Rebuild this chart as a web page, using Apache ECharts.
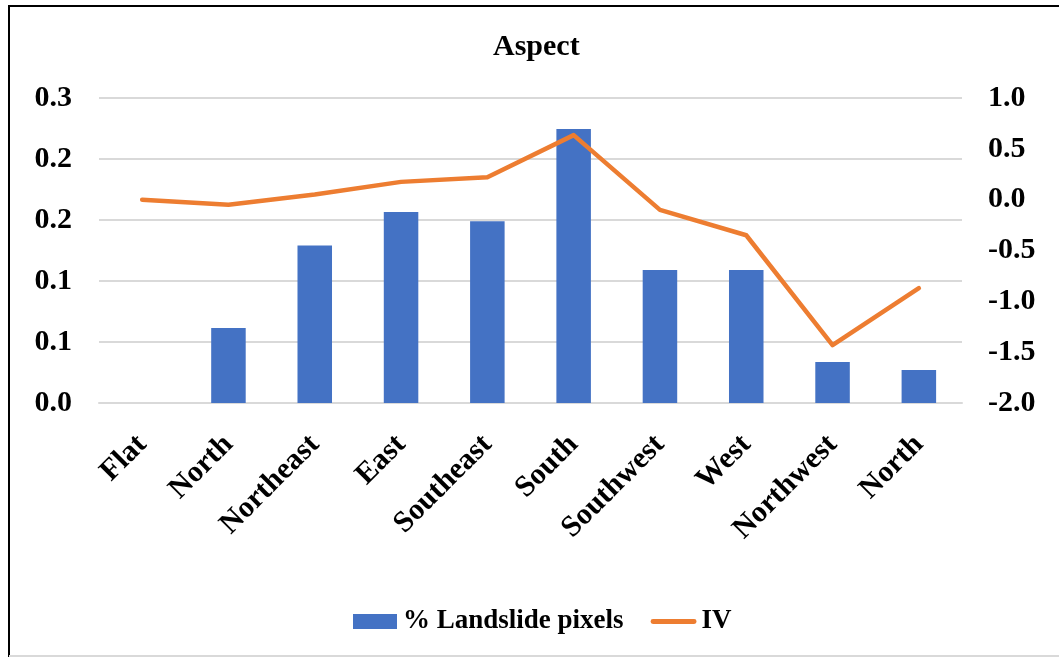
<!DOCTYPE html>
<html>
<head>
<meta charset="utf-8">
<title>Aspect</title>
<script src="https://cdn.jsdelivr.net/npm/echarts@6/dist/echarts.min.js"></script>
<style>
  html, body { margin: 0; padding: 0; background: #fff; }
  #chart { width: 1059px; height: 657px; }
</style>
</head>
<body>
<div id="chart"></div>
<script>
// Aspect classes along the x axis
const categories = ['Flat', 'North', 'Northeast', 'East', 'Southeast', 'South', 'Southwest', 'West', 'Northwest', 'North'];
// Share of landslide pixels per class (left axis)
const landslidePixels = [0, 0.0615, 0.1290, 0.1566, 0.1490, 0.2246, 0.1090, 0.1090, 0.0336, 0.0270];
// Information value per class (right axis)
const ivValues = [0.0, -0.05, 0.05, 0.175, 0.22, 0.635, -0.10, -0.35, -1.43, -0.87];
// Left axis labels as printed (one decimal)
const leftTickLabels = ['0.0', '0.1', '0.1', '0.2', '0.2', '0.3'];

const FONT = '"Liberation Serif", "Times New Roman", serif';

const chart = echarts.init(document.getElementById('chart'), null, { renderer: 'canvas' });

chart.setOption({
  backgroundColor: '#ffffff',
  animation: false,
  title: {
    text: 'Aspect',
    left: 488,
    top: 27,
    textStyle: { fontFamily: FONT, fontWeight: 'bold', fontSize: 30, color: '#000' }
  },
  legend: {
    bottom: 17,
    left: 348,
    itemGap: 27,
    itemWidth: 46,
    itemHeight: 15,
    textStyle: { fontFamily: FONT, fontWeight: 'bold', fontSize: 27, color: '#000' },
    data: [
      { name: '% Landslide pixels', icon: 'path://M0,0 L44,0 L44,15 L0,15 Z' },
      { name: 'IV', icon: 'path://M2.5,0 L44.5,0 A2.5,2.5 0 0 1 44.5,5 L2.5,5 A2.5,2.5 0 0 1 2.5,0 Z' }
    ]
  },
  grid: { left: 99, right: 97, top: 98, bottom: 254, containLabel: false },
  xAxis: {
    type: 'category',
    data: categories,
    axisTick: { show: false },
    axisLine: { show: true, lineStyle: { color: '#d9d9d9', width: 2 } },
    axisLabel: {
      interval: 0,
      rotate: 45,
      margin: 37,
      fontFamily: FONT,
      fontWeight: 'bold',
      fontSize: 30,
      color: '#000'
    }
  },
  yAxis: [
    {
      type: 'value',
      min: 0,
      max: 0.25,
      interval: 0.05,
      axisLine: { show: false },
      axisTick: { show: false },
      splitLine: { lineStyle: { color: '#d9d9d9', width: 2 } },
      axisLabel: {
        margin: 27,
        fontFamily: FONT,
        fontWeight: 'bold',
        fontSize: 30,
        color: '#000',
        formatter: v => leftTickLabels[Math.round(v / 0.05)]
      }
    },
    {
      type: 'value',
      min: -2,
      max: 1,
      interval: 0.5,
      alignTicks: false,
      axisLine: { show: false },
      axisTick: { show: false },
      splitLine: { show: false },
      axisLabel: {
        margin: 26,
        fontFamily: FONT,
        fontWeight: 'bold',
        fontSize: 30,
        color: '#000',
        formatter: v => v.toFixed(1)
      }
    }
  ],
  series: [
    {
      name: '% Landslide pixels',
      type: 'bar',
      yAxisIndex: 0,
      data: landslidePixels,
      barWidth: '40%',
      itemStyle: { color: '#4472c4' }
    },
    {
      name: 'IV',
      type: 'line',
      yAxisIndex: 1,
      data: ivValues,
      symbol: 'none',
      lineStyle: { color: '#ed7d31', width: 4.5, cap: 'round', join: 'round' },
      itemStyle: { color: '#ed7d31' }
    }
  ],
  graphic: [
    // frame lines around the chart area
    { type: 'line', shape: { x1: 9, y1: 5, x2: 9, y2: 657 }, style: { stroke: '#000', lineWidth: 2 } },
    { type: 'line', shape: { x1: 9, y1: 6, x2: 1059, y2: 6 }, style: { stroke: '#000', lineWidth: 2 } },
    { type: 'line', shape: { x1: 9, y1: 656, x2: 1059, y2: 656 }, style: { stroke: '#d9d9d9', lineWidth: 2 } }
  ]
});
</script>
</body>
</html>
